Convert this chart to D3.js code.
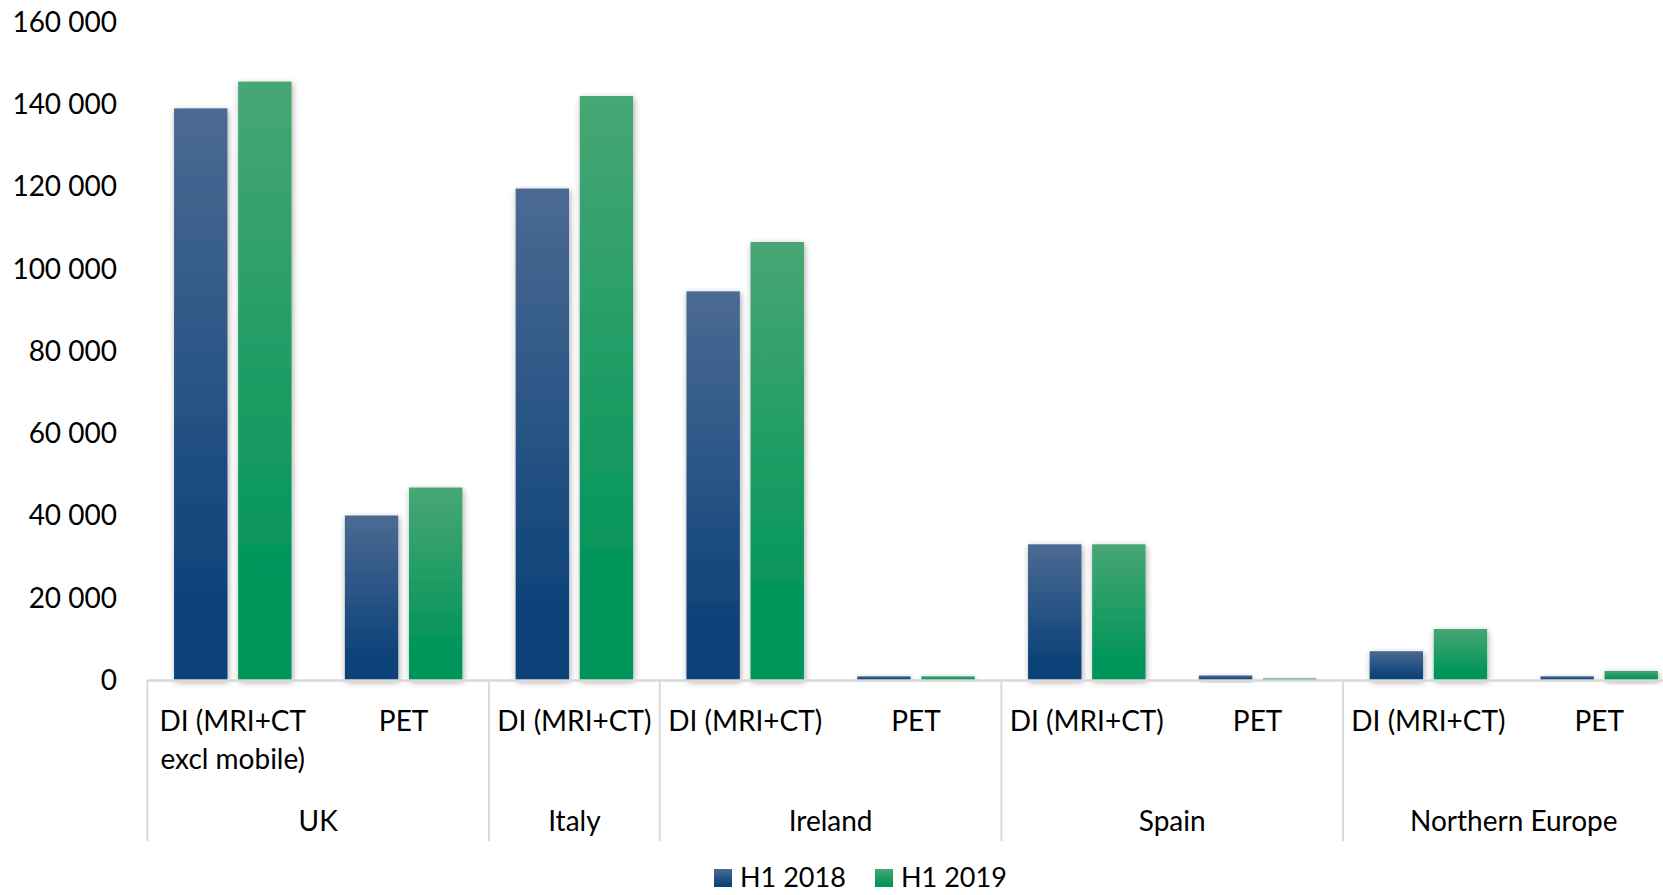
<!DOCTYPE html>
<html>
<head>
<meta charset="utf-8">
<script src="https://cdn.jsdelivr.net/npm/d3@7"></script>
<style>
  body { margin: 0; background: #fff; }
  svg { display: block; font-family: Lato, "Open Sans", sans-serif; }
</style>
</head>
<body>
<div id="chart"></div>
<script>
// data
const groups = ["UK", "Italy", "Ireland", "Spain", "Northern Europe"];
const categoryLabels = [
  ["DI (MRI+CT", "excl mobile)"], ["PET"],
  ["DI (MRI+CT)"],
  ["DI (MRI+CT)"], ["PET"],
  ["DI (MRI+CT)"], ["PET"],
  ["DI (MRI+CT)"], ["PET"]
];
const categoryGroup = [0, 0, 1, 2, 2, 3, 3, 4, 4];
const seriesNames = ["H1 2018", "H1 2019"];
const h1_2018 = [139000, 40000, 119500, 94500, 900, 33000, 1100, 7000, 900];
const h1_2019 = [145500, 46800, 142000, 106500, 900, 33000, 400, 12400, 2200];
const yTicks = [0, 20000, 40000, 60000, 80000, 100000, 120000, 140000, 160000];

const W = 1663, H = 895;
const plotLeft = 147.4, plotRight = 1684.6, plotTop = 22, plotBottom = 680;

const svg = d3.select("#chart").append("svg")
    .attr("width", W)
    .attr("height", H);

const defs = svg.append("defs");
const gradColors = [["#4b6a93", "#0e4379"], ["#48a674", "#00955a"]];
gradColors.forEach((c, i) => {
  const g = defs.append("linearGradient")
      .attr("id", "grad" + i)
      .attr("x1", 0).attr("y1", 0).attr("x2", 0).attr("y2", 1);
  g.append("stop").attr("offset", "0%").attr("stop-color", c[0]);
  g.append("stop").attr("offset", "85%").attr("stop-color", c[1]);
  g.append("stop").attr("offset", "100%").attr("stop-color", c[1]);
});
const shadow = defs.append("filter").attr("id", "shadow")
    .attr("x", "-50%").attr("y", "-50%").attr("width", "200%").attr("height", "200%");
shadow.append("feDropShadow")
    .attr("dx", 1).attr("dy", 2).attr("stdDeviation", 3)
    .attr("flood-color", "#000").attr("flood-opacity", 0.35);

// scales
const idx = d3.range(categoryLabels.length);
const x0 = d3.scaleBand().domain(idx).range([plotLeft, plotRight]).padding(0);
const x1 = d3.scaleBand().domain([0, 1]).range([0, x0.bandwidth()])
    .paddingInner(0.167).paddingOuter(0.416);
const y = d3.scaleLinear().domain([0, 160000]).range([plotBottom, plotTop]);

const fmt = v => d3.format(",")(v).replace(/,/g, " ");

// y axis labels
svg.append("g").selectAll("text")
  .data(yTicks)
  .join("text")
    .attr("x", 117)
    .attr("y", d => y(d))
    .attr("dy", "0.35em")
    .attr("text-anchor", "end")
    .attr("font-size", 28)
    .attr("fill", "#000")
    .text(fmt);

// bars
const series = [h1_2018, h1_2019];
series.forEach((vals, s) => {
  svg.append("g").selectAll("rect")
    .data(idx)
    .join("rect")
      .attr("x", i => x0(i) + x1(s))
      .attr("y", i => y(vals[i]))
      .attr("width", x1.bandwidth())
      .attr("height", i => plotBottom - y(vals[i]))
      .attr("fill", `url(#grad${s})`)
      .attr("filter", "url(#shadow)");
});

// category axis line
svg.append("line")
    .attr("x1", plotLeft).attr("x2", plotRight)
    .attr("y1", plotBottom + 0.5).attr("y2", plotBottom + 0.5)
    .attr("stroke", "#d9d9d9").attr("stroke-width", 2.5);

// group separators
const groupBounds = groups.map((g, gi) => {
  const cats = idx.filter(i => categoryGroup[i] === gi);
  return { name: g, start: x0(cats[0]), end: x0(cats[cats.length - 1]) + x0.bandwidth() };
});
svg.append("g").selectAll("line")
  .data(groupBounds)
  .join("line")
    .attr("x1", d => d.start).attr("x2", d => d.start)
    .attr("y1", plotBottom).attr("y2", 841)
    .attr("stroke", "#d9d9d9").attr("stroke-width", 2);

// category labels
const catText = svg.append("g").selectAll("text")
  .data(idx)
  .join("text")
    .attr("x", i => x0(i) + x0.bandwidth() / 2)
    .attr("y", 721)
    .attr("text-anchor", "middle")
    .attr("font-size", 28)
    .attr("fill", "#000");
catText.selectAll("tspan")
  .data(i => categoryLabels[i])
  .join("tspan")
    .attr("x", function() { return d3.select(this.parentNode).attr("x"); })
    .attr("dy", (d, k) => k === 0 ? "0.35em" : 38)
    .text(d => d);

// group labels
svg.append("g").selectAll("text")
  .data(groupBounds)
  .join("text")
    .attr("x", d => (d.start + d.end) / 2)
    .attr("y", 821)
    .attr("dy", "0.35em")
    .attr("text-anchor", "middle")
    .attr("font-size", 28)
    .attr("fill", "#000")
    .text(d => d.name);

// legend
const legendX = [714, 875];
const legend = svg.append("g").selectAll("g")
  .data(seriesNames)
  .join("g")
    .attr("transform", (d, i) => `translate(${legendX[i]},878)`);
legend.append("rect")
    .attr("x", 0).attr("y", -9)
    .attr("width", 18).attr("height", 18)
    .attr("fill", (d, i) => `url(#grad${i})`);
legend.append("text")
    .attr("x", 26)
    .attr("dy", "0.35em")
    .attr("font-size", 27)
    .attr("fill", "#000")
    .text(d => d);
</script>
</body>
</html>
